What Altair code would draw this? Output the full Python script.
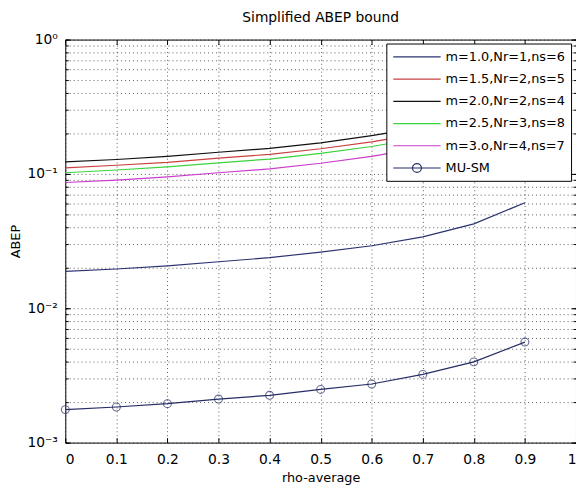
import altair as alt
import pandas as pd

# ---- data ----
rho = [0.0, 0.1, 0.2, 0.3, 0.4, 0.5, 0.6, 0.7, 0.8, 0.9]
series_names = ["m=1.0,Nr=1,ns=6", "m=1.5,Nr=2,ns=5", "m=2.0,Nr=2,ns=4",
                "m=2.5,Nr=3,ns=8", "m=3.o,Nr=4,ns=7", "MU-SM"]
series_colors = ["#2b3470", "#c94040", "#111111", "#3dd33d", "#cc3ccc", "#252d66"]

abep_m10 = [0.0188, 0.0196, 0.0207, 0.0222, 0.0238, 0.0262, 0.0292, 0.0340, 0.0425, 0.061]
abep_m15 = [0.111, 0.116, 0.122, 0.131, 0.140, 0.154, 0.173, 0.201, 0.250, 0.350]
abep_m20 = [0.123, 0.128, 0.135, 0.145, 0.155, 0.170, 0.193, 0.223, 0.275, 0.390]
abep_m25 = [0.102, 0.107, 0.113, 0.121, 0.129, 0.142, 0.160, 0.186, 0.230, 0.320]
abep_m30 = [0.0863, 0.090, 0.095, 0.102, 0.109, 0.120, 0.135, 0.157, 0.195, 0.270]
abep_musm = [0.00176, 0.00184, 0.00195, 0.00211, 0.00225, 0.00249, 0.00273, 0.00322, 0.00399, 0.0056]

x_ticks = [0.0, 0.1, 0.2, 0.3, 0.4, 0.5, 0.6, 0.7, 0.8, 0.9, 1.0]
y_major = [0.001, 0.01, 0.1, 1.0]
y_minor = [m * d for d in (0.001, 0.01, 0.1) for m in range(1, 10)] + [1.0]

all_series = [abep_m10, abep_m15, abep_m20, abep_m25, abep_m30, abep_musm]
rows = []
for name, vals in zip(series_names, all_series):
    for r, v in zip(rho, vals):
        rows.append({"rho": r, "abep": v, "series": name})
df = pd.DataFrame(rows)
df_musm = df[df["series"] == "MU-SM"]

FONT = "DejaVu Sans"
xscale = alt.Scale(domain=[0, 1], nice=False, zero=False)
yscale = alt.Scale(type="log", domain=[0.001, 1], nice=False)

grid_kw = dict(gridColor="#222222", gridDash=[1, 3], gridWidth=1, gridOpacity=0.75)

# legend sample: 48px line (symbol size 13px -> unit = 6.5px)
line_path = "M-3.69,0H3.69"
circle_path = line_path + "M0.69,0A0.69,0.69,0,1,1,-0.69,0A0.69,0.69,0,1,1,0.69,0Z"
shape_expr = "datum.value === 'MU-SM' ? '" + circle_path + "' : '" + line_path + "'"

lines = alt.Chart(df).mark_line(strokeWidth=1.2).encode(
    x=alt.X("rho:Q", scale=xscale, axis=alt.Axis(
        orient="bottom", values=x_ticks, format="~g", title="rho-average",
        tickSize=5, offset=-5, domain=False, tickColor="black", grid=True, **grid_kw,
        labelFont=FONT, labelFontSize=14, labelColor="black", labelPadding=10,
        titleFont=FONT, titleFontSize=13, titleFontWeight="normal", titleColor="black",
        titlePadding=5)),
    y=alt.Y("abep:Q", scale=yscale, axis=alt.Axis(
        orient="left", values=y_major, title="ABEP",
        labelExpr="datum.value >= 0.5 ? '10⁰' : datum.value >= 0.05 ? '10⁻¹' : datum.value >= 0.005 ? '10⁻²' : '10⁻³'",
        tickSize=5, offset=-5, domain=False, tickColor="black", grid=False,
        labelFont=FONT, labelFontSize=14, labelColor="black", labelPadding=8,
        titleFont=FONT, titleFontSize=13, titleFontWeight="normal", titleColor="black",
        titleX=-48)),
    color=alt.Color("series:N", scale=alt.Scale(domain=series_names, range=series_colors),
                    legend=alt.Legend(
                        title=None, orient="none", legendX=325, legendY=4,
                        fillColor="white", strokeColor="black", padding=6, cornerRadius=0,
                        symbolType=alt.ExprRef(shape_expr), symbolSize=169,
                        symbolStrokeWidth=1.2, symbolOffset=17.5,
                        labelFont=FONT, labelFontSize=13, labelColor="black",
                        labelOffset=21.5, rowPadding=7.5)),
    detail="series:N",
)

points = alt.Chart(df_musm).mark_point(filled=False, size=64, strokeWidth=1.1, color="#252d66").encode(
    x=alt.X("rho:Q", scale=xscale, axis=None),
    y=alt.Y("abep:Q", scale=yscale, axis=None),
)

helper_top_leftminor = alt.Chart(df).mark_point(opacity=0).encode(
    x=alt.X("rho:Q", scale=xscale, axis=alt.Axis(
        orient="top", values=x_ticks, labels=False, title=None, tickSize=5, offset=-5,
        domain=False, tickColor="black", grid=False)),
    y=alt.Y("abep:Q", scale=yscale, axis=alt.Axis(
        orient="left", values=y_minor, labels=False, title=None, tickSize=3, offset=-3,
        domain=False, tickColor="black", grid=True, **grid_kw)),
)

helper_right_major = alt.Chart(df).mark_point(opacity=0).encode(
    x=alt.X("rho:Q", scale=xscale, axis=None),
    y=alt.Y("abep:Q", scale=yscale, axis=alt.Axis(
        orient="right", values=y_major, labels=False, title=None, tickSize=5, offset=-5,
        domain=False, tickColor="black", grid=False)),
)

helper_right_minor = alt.Chart(df).mark_point(opacity=0).encode(
    x=alt.X("rho:Q", scale=xscale, axis=None),
    y=alt.Y("abep:Q", scale=yscale, axis=alt.Axis(
        orient="right", values=y_minor, labels=False, title=None, tickSize=3, offset=-3,
        domain=False, tickColor="black", grid=False)),
)

chart = alt.layer(
    helper_top_leftminor, helper_right_major, helper_right_minor, lines, points
).resolve_axis(x="independent", y="independent").properties(
    width=517, height=408,
    title=alt.TitleParams("Simplified ABEP bound", font=FONT, fontSize=14,
                          fontWeight="normal", color="black", anchor="middle", offset=8),
    autosize=alt.AutoSizeParams(type="none"),
    padding={"left": 58, "top": 29, "right": 0, "bottom": 44},
    background="white",
).configure_view(stroke="black", strokeWidth=1, fill="white")

chart.save("out.html", embed_options={"renderer": "svg", "actions": False})
